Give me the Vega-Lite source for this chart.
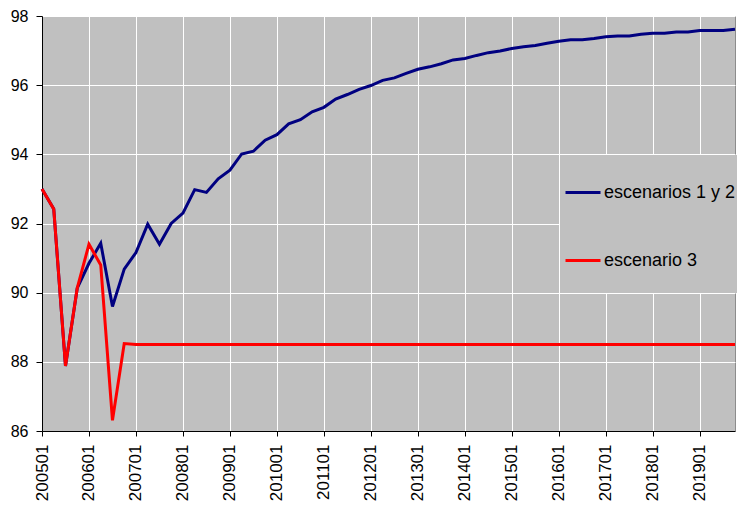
{
  "$schema": "https://vega.github.io/schema/vega-lite/v6.json",
  "width": 693,
  "height": 415,
  "autosize": {"type": "none"},
  "padding": {"left": 42, "top": 16, "right": 2, "bottom": 75},
  "background": "white",
  "config": {
    "view": {"fill": "#C0C0C0", "stroke": "#8c8c8c", "strokeWidth": 1},
    "font": "Liberation Sans",
    "axis": {"labelFont": "Liberation Sans", "labelColor": "black", "domainColor": "black", "tickColor": "black", "gridColor": "white", "gridWidth": 1, "gridOpacity": 1}
  },
  "data": {"values": [
    {"q": "200501", "a": 93.0, "b": 93.0},
    {"q": "200502", "a": 92.42, "b": 92.42},
    {"q": "200503", "a": 87.88, "b": 87.88},
    {"q": "200504", "a": 90.13, "b": 90.13},
    {"q": "200601", "a": 90.85, "b": 91.4},
    {"q": "200602", "a": 91.43, "b": 90.8},
    {"q": "200603", "a": 89.6, "b": 86.31},
    {"q": "200604", "a": 90.68, "b": 88.53},
    {"q": "200701", "a": 91.16, "b": 88.5},
    {"q": "200702", "a": 91.98, "b": 88.5},
    {"q": "200703", "a": 91.4, "b": 88.5},
    {"q": "200704", "a": 92.0, "b": 88.5},
    {"q": "200801", "a": 92.3, "b": 88.5},
    {"q": "200802", "a": 92.98, "b": 88.5},
    {"q": "200803", "a": 92.9, "b": 88.5},
    {"q": "200804", "a": 93.29, "b": 88.5},
    {"q": "200901", "a": 93.54, "b": 88.5},
    {"q": "200902", "a": 94.01, "b": 88.5},
    {"q": "200903", "a": 94.09, "b": 88.5},
    {"q": "200904", "a": 94.41, "b": 88.5},
    {"q": "201001", "a": 94.57, "b": 88.5},
    {"q": "201002", "a": 94.88, "b": 88.5},
    {"q": "201003", "a": 95.0, "b": 88.5},
    {"q": "201004", "a": 95.23, "b": 88.5},
    {"q": "201101", "a": 95.36, "b": 88.5},
    {"q": "201102", "a": 95.6, "b": 88.5},
    {"q": "201103", "a": 95.73, "b": 88.5},
    {"q": "201104", "a": 95.88, "b": 88.5},
    {"q": "201201", "a": 95.99, "b": 88.5},
    {"q": "201202", "a": 96.14, "b": 88.5},
    {"q": "201203", "a": 96.21, "b": 88.5},
    {"q": "201204", "a": 96.34, "b": 88.5},
    {"q": "201301", "a": 96.46, "b": 88.5},
    {"q": "201302", "a": 96.53, "b": 88.5},
    {"q": "201303", "a": 96.62, "b": 88.5},
    {"q": "201304", "a": 96.73, "b": 88.5},
    {"q": "201401", "a": 96.77, "b": 88.5},
    {"q": "201402", "a": 96.86, "b": 88.5},
    {"q": "201403", "a": 96.94, "b": 88.5},
    {"q": "201404", "a": 96.99, "b": 88.5},
    {"q": "201501", "a": 97.06, "b": 88.5},
    {"q": "201502", "a": 97.11, "b": 88.5},
    {"q": "201503", "a": 97.15, "b": 88.5},
    {"q": "201504", "a": 97.21, "b": 88.5},
    {"q": "201601", "a": 97.27, "b": 88.5},
    {"q": "201602", "a": 97.31, "b": 88.5},
    {"q": "201603", "a": 97.31, "b": 88.5},
    {"q": "201604", "a": 97.35, "b": 88.5},
    {"q": "201701", "a": 97.40, "b": 88.5},
    {"q": "201702", "a": 97.42, "b": 88.5},
    {"q": "201703", "a": 97.42, "b": 88.5},
    {"q": "201704", "a": 97.47, "b": 88.5},
    {"q": "201801", "a": 97.50, "b": 88.5},
    {"q": "201802", "a": 97.50, "b": 88.5},
    {"q": "201803", "a": 97.54, "b": 88.5},
    {"q": "201804", "a": 97.54, "b": 88.5},
    {"q": "201901", "a": 97.58, "b": 88.5},
    {"q": "201902", "a": 97.58, "b": 88.5},
    {"q": "201903", "a": 97.58, "b": 88.5},
    {"q": "201904", "a": 97.62, "b": 88.5}
  ]},
  "encoding": {
    "x": {
      "field": "q", "type": "ordinal", "sort": null,
      "scale": {"type": "point", "padding": 0},
      "axis": {
        "values": ["200501","200601","200701","200801","200901","201001","201101","201201","201301","201401","201501","201601","201701","201801","201901"],
        "labelAngle": -90, "labelFontSize": 17, "grid": true, "tickSize": 5, "labelPadding": 8, "title": null
      }
    }
  },
  "layer": [
    {
      "mark": {"type": "line", "strokeWidth": 3},
      "encoding": {
        "y": {
          "field": "a", "type": "quantitative",
          "scale": {"domain": [86, 98], "nice": false, "zero": false},
          "axis": {"values": [86, 88, 90, 92, 94, 96, 98], "grid": true, "tickSize": 6, "labelPadding": 8, "labelFontSize": 16, "title": null}
        },
        "color": {
          "datum": "escenarios 1 y 2",
          "scale": {"domain": ["escenarios 1 y 2", "escenario 3"], "range": ["#000080", "#FF0000"]},
          "legend": {
            "orient": "none", "legendX": 518, "legendY": 139, "title": " ", "titleFontSize": 2, "titlePadding": 3,
            "symbolType": "stroke", "symbolSize": 1225, "symbolStrokeWidth": 3,
            "labelFontSize": 18, "labelColor": "black", "labelOffset": 2, "labelLimit": 300,
            "padding": 4, "rowPadding": 11, "clipHeight": 57, "fillColor": "#C0C0C0"
          }
        }
      }
    },
    {
      "mark": {"type": "line", "strokeWidth": 3},
      "encoding": {
        "y": {"field": "b", "type": "quantitative"},
        "color": {"datum": "escenario 3"}
      }
    }
  ]
}
